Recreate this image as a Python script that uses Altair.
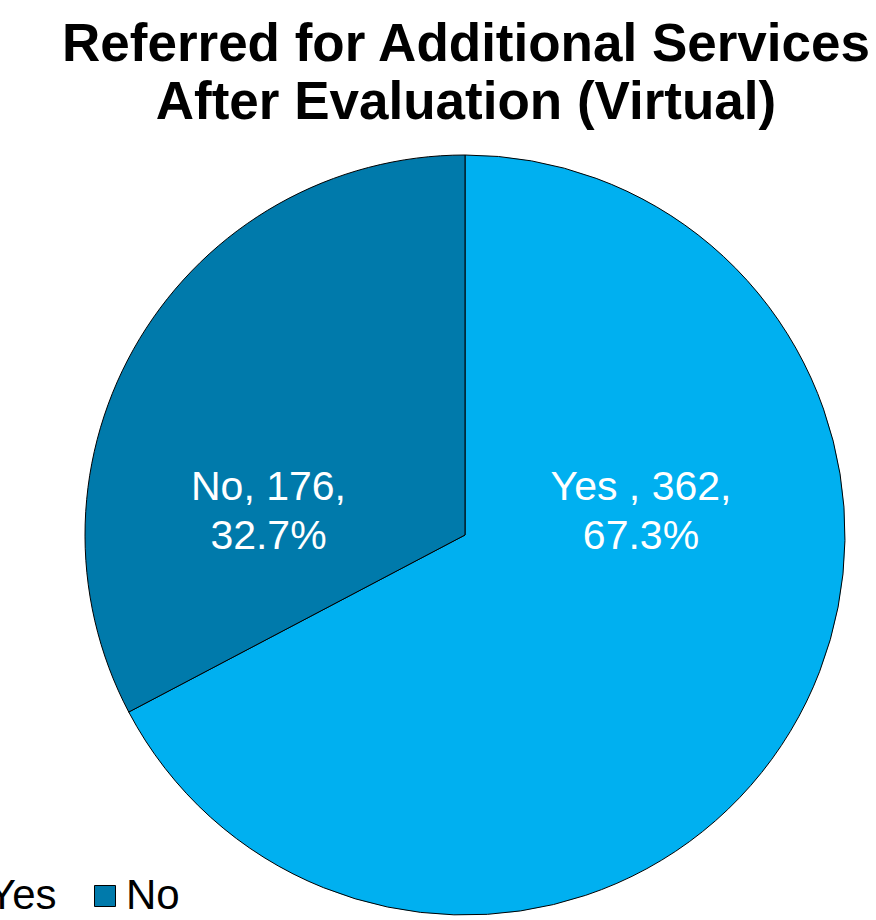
import altair as alt
import pandas as pd

categories = ["Yes ", "No"]
counts = [362, 176]
colors = ["#00B0F0", "#007AAB"]
title_lines = ["Referred for Additional Services", "After Evaluation (Virtual)"]

df = pd.DataFrame({"category": categories, "count": counts})

TOP = 140
W, H = 876, 920 - TOP
CX, CY = 465, 535 - TOP

base = alt.Chart(df).transform_window(
    idx="row_number()"
).transform_joinaggregate(
    total="sum(count)"
).transform_calculate(
    pct="format(datum.count / datum.total, '.1%')",
    label="datum.category + ', ' + datum.count + ',\\n' + datum.pct",
).encode(
    theta=alt.Theta("count:Q", stack=True),
    order=alt.Order("idx:Q"),
)

arcs = base.mark_arc(
    radius=380, stroke="black", strokeWidth=1, x=CX, y=CY
).encode(
    color=alt.Color(
        "category:N",
        scale=alt.Scale(domain=categories, range=colors),
        legend=alt.Legend(
            orient="none",
            legendX=-54,
            legendY=735,
            direction="horizontal",
            title=None,
            symbolType="square",
            symbolSize=441,
            symbolStrokeColor="black",
            symbolStrokeWidth=1,
            symbolOpacity=1,
            labelFontSize=42,
            labelFont="Liberation Sans",
            labelColor="black",
            labelOffset=0,
            columnPadding=27,
            labelExpr="trim(datum.label)",
        ),
    )
)

labels = base.mark_text(
    radius=186.25,
    thetaOffset=-0.541,
    dx=-10.25,
    dy=-47,
    x=CX,
    y=CY,
    fontSize=41,
    font="Liberation Sans",
    color="white",
    lineBreak="\n",
    lineHeight=49,
    align="center",
    baseline="middle",
).encode(text="label:N")

chart = alt.layer(arcs, labels).properties(
    width=W,
    height=H,
    padding={"left": 0, "right": 0, "top": TOP, "bottom": 0},
    autosize=alt.AutoSizeParams(type="none"),
    title=alt.TitleParams(
        text=title_lines,
        fontSize=53,
        font="Liberation Sans",
        fontWeight="bold",
        color="black",
        anchor="middle",
        dx=28,
        lineHeight=58,
        offset=10,
    ),
).configure_view(stroke=None)

chart.save("out.html", embed_options={"renderer": "svg", "actions": False})
